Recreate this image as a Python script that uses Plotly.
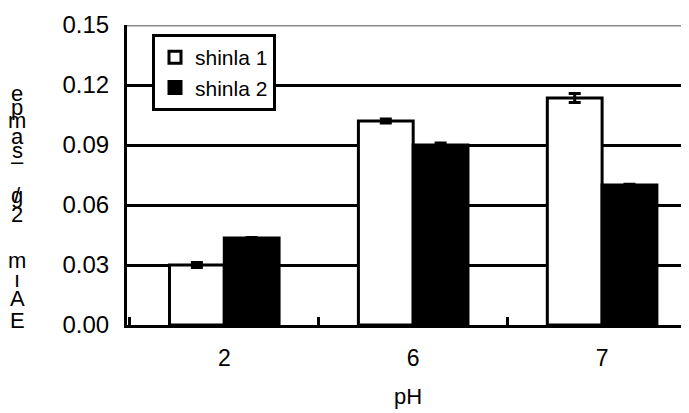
import plotly.graph_objects as go

categories = ["2", "6", "7"]
shinla1 = [0.0300, 0.1020, 0.1135]
shinla1_err = [0.0012, 0.0010, 0.0022]
shinla2 = [0.0435, 0.0900, 0.0700]
shinla2_err = [0.0003, 0.0010, 0.0004]
y_ticks = [0.00, 0.03, 0.06, 0.09, 0.12, 0.15]
y_tick_text = ["0.00", "0.03", "0.06", "0.09", "0.12", "0.15"]
# stacked y-axis title glyphs (top to bottom)
ylabel_chars = ["e", "p", "m", "a", "s", "‒", "g", "/", "2", "m", "ı", "A", "E"]
ylabel_px = [93, 107, 121, 136, 150, 161, 195, 195, 214, 260, 279, 298, 320]

FONT = "Liberation Sans, Arial, sans-serif"
OFF = 8  # page body margin of the html page

fig = go.Figure()
fig.add_trace(go.Bar(
    name="shinla 1", x=categories, y=shinla1,
    marker=dict(color="white", line=dict(color="black", width=3)),
    error_y=dict(type="data", array=shinla1_err, color="black", thickness=3, width=6),
))
fig.add_trace(go.Bar(
    name="shinla 2", x=categories, y=shinla2,
    marker=dict(color="black", line=dict(color="black", width=3)),
    error_y=dict(type="data", array=shinla2_err, color="black", thickness=3, width=6),
))

fig.add_shape(type="line", xref="paper", yref="y", x0=0, x1=1, y0=0.15, y1=0.15,
              line=dict(color="#888888", width=3), layer="above")

for ch, py in zip(ylabel_chars, ylabel_px):
    fig.add_annotation(text=ch, xref="paper", yref="paper", x=(17 - 127) / 562,
                       y=(325 - py) / 300,
                       showarrow=False, font=dict(family=FONT, size=22, color="black"),
                       xanchor="center", yanchor="middle")

fig.update_layout(
    width=689 - OFF, height=413 - OFF,
    margin=dict(l=127 - OFF, r=0, t=25 - OFF, b=88, autoexpand=False),
    paper_bgcolor="white", plot_bgcolor="white",
    barmode="group", bargap=0.42, bargroupgap=0,
    font=dict(family=FONT, size=24, color="black"),
    showlegend=True,
    legend=dict(x=(152 - 127) / 562, y=(325 - 34) / 300, xanchor="left", yanchor="top",
                bgcolor="white", bordercolor="black", borderwidth=3,
                font=dict(family=FONT, size=21, color="black"),
                tracegroupgap=0, itemwidth=30),
    xaxis=dict(type="category", range=[-0.515, 2.46], showline=True, linecolor="black",
               linewidth=3, ticks="inside", tickson="boundaries", ticklen=8,
               tickwidth=3, tickcolor="black", showgrid=False,
               ticklabelstandoff=10, tickfont=dict(size=23),
               title=dict(text="pH", font=dict(family=FONT, size=22), standoff=20)),
    yaxis=dict(range=[0, 0.15], tickvals=y_ticks, ticktext=y_tick_text,
               showline=True, linecolor="black", linewidth=3, ticks="",
               showgrid=True, gridcolor="black", gridwidth=3, zeroline=False,
               ticklabelstandoff=10, tickfont=dict(size=24)),
)

fig.write_html("out.html")
